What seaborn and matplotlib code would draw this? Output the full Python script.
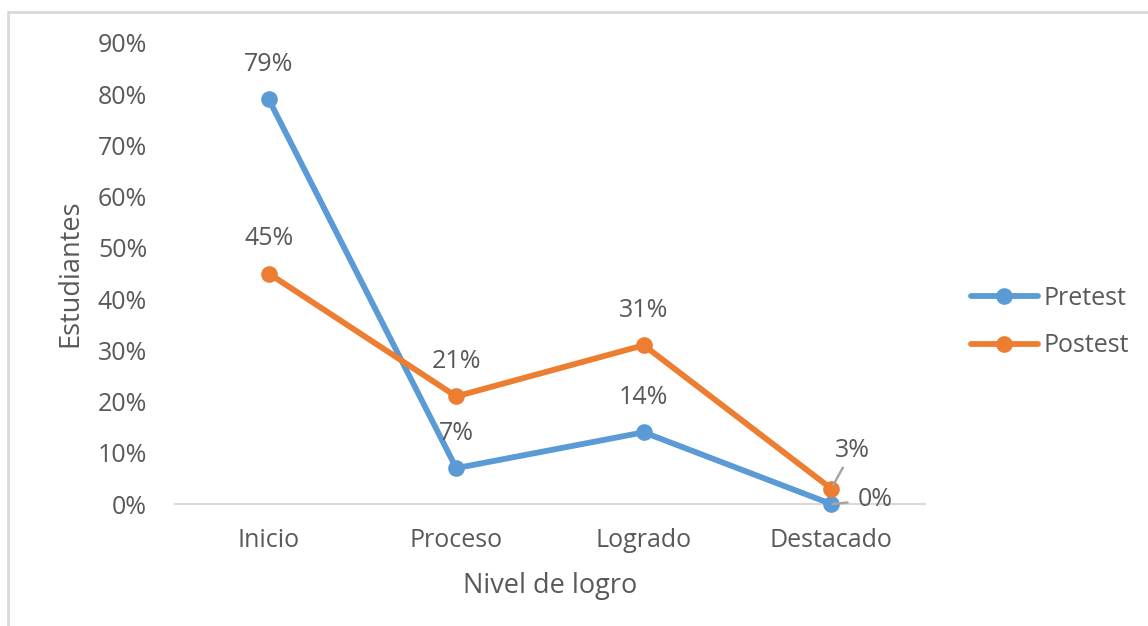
import matplotlib
matplotlib.use("Agg")
import matplotlib.pyplot as plt
from matplotlib.lines import Line2D
import seaborn as sns
import pandas as pd

niveles = ["Inicio", "Proceso", "Logrado", "Destacado"]
pretest = [0.79, 0.07, 0.14, 0.00]
postest = [0.45, 0.21, 0.31, 0.03]
series = ["Pretest", "Postest"]
colores = ["#5B9BD5", "#ED7D31"]
yticks = [0.0, 0.1, 0.2, 0.3, 0.4, 0.5, 0.6, 0.7, 0.8, 0.9]

df = pd.DataFrame({
    "Nivel": niveles * 2,
    "pos": list(range(len(niveles))) * 2,
    "valor": pretest + postest,
    "Serie": [series[0]] * len(niveles) + [series[1]] * len(niveles),
})

sns.set_theme(style="white")
plt.rcParams["font.family"] = ["Open Sans", "DejaVu Sans"]
gris = "#595959"
fs = 18

fig = plt.figure(figsize=(11.48, 6.26), dpi=100)
ax = fig.add_axes([175 / 1148, 1 - 504 / 626, 750 / 1148, (504 - 43) / 626])

sns.lineplot(data=df, x="pos", y="valor", hue="Serie", palette=colores,
             marker="o", markersize=12, markeredgewidth=0, linewidth=4.2,
             ax=ax, legend=False)
for ln in ax.get_lines():
    ln.set_clip_on(False)
    ln.set_zorder(3)

ax.set_xlim(-0.5, len(niveles) - 0.5)
ax.set_ylim(0, 0.9)
ax.set_xticks(range(len(niveles)))
ax.set_xticklabels(niveles)
ax.set_yticks(yticks)
ax.set_yticklabels([f"{int(round(t * 100))}%" for t in yticks])
ax.tick_params(axis="both", length=0, labelsize=fs, colors=gris)
ax.tick_params(axis="y", pad=20)
ax.tick_params(axis="x", pad=17)
for s in ["left", "right", "top"]:
    ax.spines[s].set_visible(False)
ax.spines["bottom"].set_color("#D9D9D9")
ax.spines["bottom"].set_linewidth(1.5)
ax.spines["bottom"].set_zorder(1)
ax.set_xlabel("Nivel de logro", fontsize=19.5, color=gris, labelpad=14)
ax.set_ylabel("Estudiantes", fontsize=19.5, color=gris, labelpad=10)
ax.grid(False)

# data labels above each point
for vals in (pretest, postest):
    for i, v in enumerate(vals):
        if i == 3:
            continue
        ax.annotate(f"{int(round(v * 100))}%", (i, v), xytext=(0, 35),
                    textcoords="offset pixels", ha="center", va="center",
                    fontsize=fs, color=gris)

# labels for the crowded last category, with leader lines
ax.annotate(f"{int(round(postest[3] * 100))}%", (3, postest[3]), xytext=(21, 38),
            textcoords="offset pixels", ha="center", va="center", fontsize=fs,
            color=gris, zorder=5,
            arrowprops=dict(arrowstyle="-", color="#A6A6A6", lw=1.8,
                            shrinkA=1, shrinkB=3))
ax.annotate(f"{int(round(pretest[3] * 100))}%", (3, pretest[3]), xytext=(44, 4),
            textcoords="offset pixels", ha="center", va="center", fontsize=fs,
            color=gris, zorder=5,
            arrowprops=dict(arrowstyle="-", color="#A6A6A6", lw=1.8,
                            shrinkA=5, shrinkB=1))

handles = [Line2D([], [], color=c, lw=4.2, marker="o", markersize=12,
                  markeredgewidth=0) for c in colores]
fig.legend(handles, series, loc="center left",
           bbox_to_anchor=(948 / 1148, 1 - 322 / 626), frameon=False,
           fontsize=fs, labelcolor=gris, handlelength=2.7, handletextpad=0.2,
           labelspacing=0.9)

# outer chart-area border
fig.add_artist(Line2D([8 / 1148, 1], [1 - 12 / 626, 1 - 12 / 626],
                      color="#D9D9D9", lw=2, transform=fig.transFigure))
fig.add_artist(Line2D([8 / 1148, 8 / 1148], [0, 1 - 12 / 626],
                      color="#D9D9D9", lw=2, transform=fig.transFigure))

fig.savefig("out.png", dpi=100, facecolor="white")
